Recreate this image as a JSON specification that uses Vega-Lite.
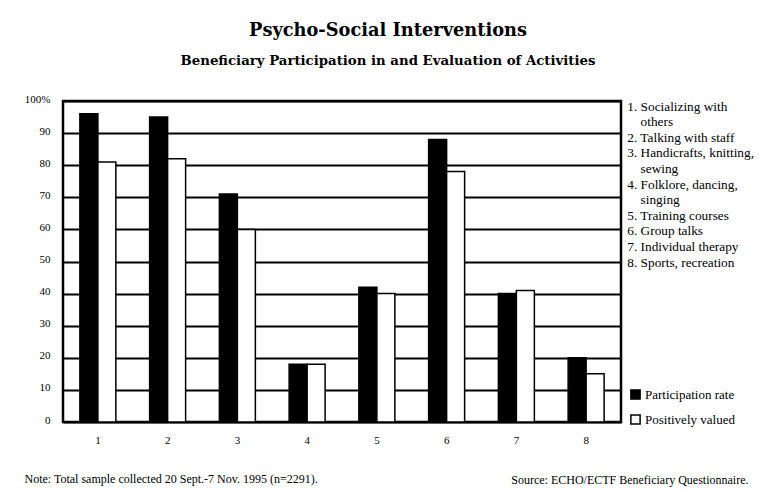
{
  "$schema": "https://vega.github.io/schema/vega-lite/v6.json",
  "width": 558,
  "height": 321,
  "autosize": {"type": "none"},
  "padding": {"left": 63, "top": 101, "right": 138, "bottom": 71},
  "background": "white",
  "config": {
    "font": "Liberation Serif",
    "view": {"stroke": "black", "strokeWidth": 2.5}
  },
  "title": {
    "text": "Psycho-Social Interventions",
    "subtitle": "Beneficiary Participation in and Evaluation of Activities",
    "anchor": "middle",
    "frame": "group",
    "dx": 46,
    "font": "DejaVu Serif",
    "fontSize": 17.8,
    "fontWeight": "bold",
    "color": "black",
    "subtitleFont": "DejaVu Serif",
    "subtitleFontSize": 13.3,
    "subtitleFontWeight": "bold",
    "subtitleColor": "black",
    "subtitlePadding": 14,
    "offset": 26
  },
  "datasets": {
    "bars": [
      {"id": "1", "measure": "Participation rate", "value": 96},
      {"id": "1", "measure": "Positively valued", "value": 81},
      {"id": "2", "measure": "Participation rate", "value": 95},
      {"id": "2", "measure": "Positively valued", "value": 82},
      {"id": "3", "measure": "Participation rate", "value": 71},
      {"id": "3", "measure": "Positively valued", "value": 60},
      {"id": "4", "measure": "Participation rate", "value": 18},
      {"id": "4", "measure": "Positively valued", "value": 18},
      {"id": "5", "measure": "Participation rate", "value": 42},
      {"id": "5", "measure": "Positively valued", "value": 40},
      {"id": "6", "measure": "Participation rate", "value": 88},
      {"id": "6", "measure": "Positively valued", "value": 78},
      {"id": "7", "measure": "Participation rate", "value": 40},
      {"id": "7", "measure": "Positively valued", "value": 41},
      {"id": "8", "measure": "Participation rate", "value": 20},
      {"id": "8", "measure": "Positively valued", "value": 15}
    ],
    "list": [
      {"n": 1, "line": "1. Socializing with"},
      {"n": 2, "line": "others"},
      {"n": 3, "line": "2. Talking with staff"},
      {"n": 4, "line": "3. Handicrafts, knitting,"},
      {"n": 5, "line": "sewing"},
      {"n": 6, "line": "4. Folklore, dancing,"},
      {"n": 7, "line": "singing"},
      {"n": 8, "line": "5. Training courses"},
      {"n": 9, "line": "6. Group talks"},
      {"n": 10, "line": "7. Individual therapy"},
      {"n": 11, "line": "8. Sports, recreation"}
    ]
  },
  "layer": [
    {
      "data": {"name": "bars"},
      "mark": {"type": "bar", "stroke": "black", "strokeWidth": 1.5},
      "encoding": {
        "x": {
          "field": "id",
          "type": "nominal",
          "scale": {"paddingInner": 0.484, "paddingOuter": 0.242},
          "axis": {
            "labelAngle": 0,
            "domain": false,
            "ticks": false,
            "labelPadding": 12,
            "labelFontSize": 11,
            "labelColor": "black",
            "title": "Note: Total sample collected 20 Sept.-7 Nov. 1995 (n=2291).",
            "titleX": -39,
            "titleY": 56,
            "titleAlign": "left",
            "titleBaseline": "middle",
            "titleFontWeight": "normal",
            "titleFontSize": 12,
            "titleColor": "black"
          }
        },
        "y": {
          "field": "value",
          "type": "quantitative",
          "scale": {"domain": [0, 100], "nice": false},
          "axis": {
            "values": [0, 10, 20, 30, 40, 50, 60, 70, 80, 90, 100],
            "domain": false,
            "ticks": false,
            "grid": true,
            "gridColor": "black",
            "gridWidth": 2,
            "gridOpacity": 1,
            "labelPadding": 13,
            "labelFontSize": 11,
            "labelColor": "black",
            "labelOffset": -2,
            "labelExpr": "datum.value == 100 ? '100%' : datum.label",
            "title": "Source: ECHO/ECTF Beneficiary Questionnaire.",
            "titleAngle": 0,
            "titleX": 685,
            "titleY": 378,
            "titleAlign": "right",
            "titleBaseline": "middle",
            "titleFontWeight": "normal",
            "titleFontSize": 12,
            "titleColor": "black"
          }
        },
        "xOffset": {
          "field": "measure",
          "sort": ["Participation rate", "Positively valued"],
          "scale": {"paddingInner": 0, "paddingOuter": 0}
        },
        "color": {
          "field": "measure",
          "type": "nominal",
          "scale": {"domain": ["Participation rate", "Positively valued"], "range": ["black", "white"]},
          "legend": {
            "orient": "none",
            "legendX": 566,
            "legendY": 287,
            "title": null,
            "padding": 0,
            "symbolType": "square",
            "symbolSize": 85,
            "symbolStrokeColor": "black",
            "symbolStrokeWidth": 1.5,
            "labelFontSize": 13,
            "labelOffset": 3,
            "labelColor": "black",
            "rowPadding": 8
          }
        }
      }
    },
    {
      "data": {"name": "list"},
      "mark": {"type": "point", "opacity": 0},
      "encoding": {
        "shape": {
          "field": "line",
          "type": "nominal",
          "sort": {"field": "n", "op": "min"},
          "legend": {
            "orient": "none",
            "legendX": 551,
            "legendY": -1,
            "title": null,
            "padding": 0,
            "symbolSize": 0,
            "symbolOpacity": 0,
            "labelOffset": 0,
            "labelFontSize": 13.3,
            "labelColor": "black",
            "labelLimit": 300,
            "rowPadding": 1.6,
            "labelExpr": "indexof(datum.label, '.') < 0 ? '\u200b\u00a0\u00a0\u00a0\u00a0' + datum.label : datum.label"
          }
        }
      }
    }
  ]
}
